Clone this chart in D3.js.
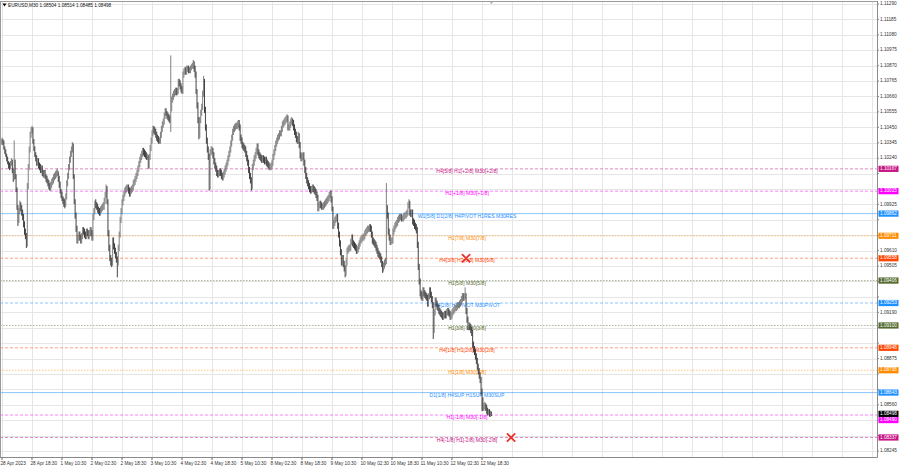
<!DOCTYPE html>
<html><head><meta charset="utf-8">
<script src="https://cdn.jsdelivr.net/npm/d3@7"></script>
<style>body{margin:0;background:#fff;} svg{display:block;font-family:"Liberation Sans",Arial,sans-serif;}</style>
</head><body><svg id="c" width="900" height="468"></svg>
<script>
const symbol = "EURUSD,M30";
const priceBase = 1.08; // bar values below are pips above this base
const firstBarTime = "2023-04-28 01:30";
const closes = [
234,235,236,235,231,229,226,224,221,219, 218,220,222,216,210,222,212,203,191,182,
188,193,190,187,184,179,174,171,166,205, 218,230,240,243,244,236,231,227,224,221,
222,219,218,216,217,214,213,214,212,210, 209,207,205,204,206,208,209,211,212,213,
214,214,210,206,202,199,197,195,194,193, 198,207,212,218,223,227,230,233,212,195,
185,176,168,170,172,170,168,171,175,174, 172,171,174,173,171,173,175,173,170,184,
188,193,192,191,189,188,187,189,190,191, 191,195,199,204,195,173,163,156,154,153,
168,164,161,158,155,153,163,172,182,188, 194,197,200,202,203,204,204,202,200,202,
203,204,207,208,210,212,214,217,220,223, 225,227,229,228,227,226,225,225,219,225,
231,236,241,244,243,242,240,238,237,236, 236,240,244,247,249,253,256,255,253,252,
251,250,258,264,266,268,269,270,269,270, 276,275,273,271,270,281,283,284,283,285,
285,284,284,285,286,287,288,285,281,270, 260,250,240,250,255,259,268,277,257,245,
236,230,225,205,228,229,229,226,222,219, 217,214,213,214,215,214,212,211,213,215,
217,219,221,224,227,230,234,238,242,244, 245,246,246,247,248,245,238,236,233,232,
231,230,227,224,221,216,212,209,205,218, 221,224,226,229,232,228,226,225,224,223,
224,223,222,223,221,220,219,218,218,219, 221,225,228,231,234,236,238,239,241,241,
244,247,248,249,250,251,252,245,245,247, 249,250,248,245,242,240,237,236,240,233,
226,224,225,226,221,216,212,209,207,205, 203,202,203,204,203,202,201,199,197,190,
192,193,192,191,191,192,193,194,195,196, 197,199,200,196,190,178,180,182,183,184,
178,172,166,160,153,156,152,149,146,153, 161,162,163,163,167,170,166,165,164,163,
161,162,164,166,168,169,170,170,171,173, 174,175,176,176,177,176,172,168,167,166,
165,163,161,159,158,157,155,152,149,151, 153,154,190,185,174,170,167,168,168,174,
176,178,179,180,182,183,184,184,183,183, 184,185,185,186,187,192,194,187,186,187,
181,180,178,177,175,165,150,140,132,131, 129,134,132,131,130,129,125,130,134,131,
128,124,107,119,127,125,123,122,120,119, 118,117,116,117,118,117,119,120,119,118,
116,117,119,120,121,122,122,123,124,124, 125,126,128,130,129,130,131,120,114,109,
110,109,107,105,97,94,92,89,86,82, 79,76,73,65,59,54,55,55,54,52,
51,51,50,50.4,49.8];
const highs = [
236,237,238,237,236,232,230,227,225,222, 221,222,224,223,217,236,223,213,204,192,
190,195,194,192,189,186,181,176,173,207, 220,232,242,245,246,245,237,232,228,226,
224,224,221,220,219,219,216,216,216,213, 212,210,209,207,208,210,211,213,214,215,
216,217,215,212,208,203,201,198,197,196, 200,209,214,220,225,229,232,235,234,213,
196,187,178,172,174,174,172,173,177,177, 176,174,176,176,175,175,177,177,175,186,
190,195,196,194,193,191,190,191,192,193, 194,197,201,206,205,196,175,165,158,156,
170,170,166,163,160,157,165,174,184,190, 196,199,202,204,205,206,206,206,204,204,
205,206,209,210,212,214,216,219,222,225, 227,229,231,231,230,229,228,227,226,227,
233,238,243,246,246,245,244,242,240,239, 238,242,246,249,251,255,258,258,256,255,
254,253,294,266,268,270,271,272,272,272, 278,278,277,275,273,283,285,286,286,287,
287,287,286,287,288,289,291,290,287,283, 271,262,252,252,257,261,270,280,278,259,
247,238,232,227,230,232,232,231,228,224, 221,219,216,216,217,217,216,214,215,217,
219,221,223,226,229,232,236,240,244,246, 247,248,248,249,250,250,247,240,238,235,
234,233,232,229,226,223,218,214,211,220, 223,226,228,231,234,234,230,228,227,226,
226,226,225,225,225,223,222,221,220,221, 223,227,230,233,236,238,240,241,243,243,
246,249,250,251,252,253,254,253,247,249, 251,252,251,250,247,244,242,239,242,241,
235,228,227,228,228,223,218,214,211,209, 207,205,205,206,206,205,204,203,201,199,
194,195,195,194,193,194,195,196,197,198, 199,201,202,202,198,191,182,184,185,186,
186,180,174,168,162,158,158,154,151,155, 163,164,165,165,169,172,172,168,167,166,
165,164,166,168,170,171,172,172,173,175, 176,177,178,178,179,179,178,174,170,169,
168,167,165,163,161,160,159,157,154,153, 155,156,207,192,187,176,172,170,170,176,
178,180,181,182,184,185,186,186,186,185, 186,187,187,188,189,194,196,195,189,189,
189,183,182,180,179,177,167,152,142,134, 133,136,136,134,133,132,131,132,136,136,
133,130,126,121,129,129,127,125,124,122, 121,120,119,119,120,120,121,122,122,121,
120,119,121,122,123,124,124,125,126,126, 127,128,130,132,132,132,136,132,122,116,
112,112,111,109,107,99,96,94,91,88, 84,81,78,75,67,61,57,58,57,56,
54,53,53,52,51.4];
const lows = [
232,233,234,233,230,227,225,222,220,217, 216,217,219,214,208,209,210,201,189,178,
180,186,188,185,182,177,172,169,163,164, 203,216,228,238,241,234,229,225,222,219,
219,217,216,214,214,212,211,211,210,208, 207,205,203,202,202,204,206,207,209,210,
211,212,208,204,200,197,195,193,191,190, 191,196,205,210,216,221,225,228,210,193,
183,174,166,166,168,168,166,166,169,172, 170,169,169,171,169,169,171,171,168,168,
182,186,190,189,187,186,185,185,187,188, 189,189,193,197,193,171,161,154,151,150,
151,162,159,156,153,143,151,161,170,180, 186,192,195,198,200,201,202,200,198,198,
200,201,202,205,206,208,210,212,215,218, 221,223,225,226,225,224,223,223,217,217,
223,229,234,239,241,240,238,236,235,234, 234,234,238,242,245,247,251,253,251,250,
249,248,242,256,262,264,266,267,267,267, 268,273,271,269,268,268,279,281,281,281,
283,282,282,282,284,285,285,283,279,268, 258,248,237,238,248,253,257,266,255,243,
234,228,223,202,203,226,227,224,220,217, 215,212,211,211,212,212,210,209,209,211,
213,215,217,219,222,225,228,232,236,240, 242,243,244,244,245,243,236,234,231,230,
229,228,225,222,219,214,210,207,202,203, 216,219,222,224,227,226,224,223,222,221,
221,221,220,220,219,218,217,216,216,216, 217,219,223,226,229,232,234,236,237,239,
239,242,245,246,247,248,249,243,243,243, 245,247,246,243,240,238,235,234,234,231,
224,222,222,223,219,214,210,207,205,203, 201,200,200,201,201,200,199,197,195,188,
188,190,190,189,189,189,190,191,192,193, 194,195,197,194,188,176,176,178,180,181,
176,170,164,158,151,151,150,147,143,144, 151,159,160,161,161,165,164,163,162,161,
159,159,160,162,164,166,167,168,168,169, 171,172,173,174,174,174,170,166,165,164,
163,161,159,157,156,155,153,150,146,147, 149,151,152,183,172,168,165,165,166,166,
172,174,176,177,178,180,181,182,181,181, 181,182,183,183,184,185,190,185,184,184,
179,178,176,175,173,163,148,138,130,128, 127,127,130,129,128,127,123,123,128,129,
126,122,101,105,117,123,121,120,118,117, 116,115,114,114,115,115,115,117,117,116,
114,114,115,117,118,119,120,120,121,122, 122,123,124,126,127,127,128,118,112,107,
107,107,105,103,95,92,90,87,84,80, 77,74,71,63,52,52,52,53,52,50,
49,49,48,48,48.5];

const timeTickLabels = ["28 Apr 2023","28 Apr 18:30","1 May 10:30","2 May 02:30","2 May 18:30","3 May 10:30","4 May 02:30","4 May 18:30","5 May 10:30","8 May 02:30","8 May 18:30","9 May 10:30","10 May 02:30","10 May 18:30","11 May 10:30","12 May 02:30","12 May 18:30"];
const timeTickTimes = ["2023-04-28 02:30","2023-04-28 18:30","2023-05-01 10:30","2023-05-02 02:30","2023-05-02 18:30","2023-05-03 10:30","2023-05-04 02:30","2023-05-04 18:30","2023-05-05 10:30","2023-05-08 02:30","2023-05-08 18:30","2023-05-09 10:30","2023-05-10 02:30","2023-05-10 18:30","2023-05-11 10:30","2023-05-12 02:30","2023-05-12 18:30"];
const priceTicks = [1.11290,1.11185,1.11080,1.10975,1.10870,1.10765,1.10660,1.10555,1.10450,1.10345,1.10240,1.10135,1.10030,1.09925,1.09820,1.09715,1.09610,1.09505,1.09400,1.09295,1.09190,1.09085,1.08980,1.08875,1.08770,1.08665,1.08560,1.08455,1.08350,1.08245];

const levelNames = ["H4[5/8] H1[+2/8] M30[+2/8]","H1[+1/8] M30[+1/8]","W1[5/8] D1[2/8] H4PIVOT H1RES M30RES","H1[7/8] M30[7/8]","H4[3/8] H1[6/8] M30[6/8]","H1[5/8] M30[5/8]","H4[2/8] H1PIVOT M30PIVOT","H1[3/8] M30[3/8]","H4[1/8] H1[2/8] M30[2/8]","H1[1/8] M30[1/8]","D1[1/8] H4SUP H1SUP M30SUP","H1[-1/8] M30[-1/8]","H4[-1/8] H1[-2/8] M30[-2/8]"];
const levelPrices = [1.10167,1.10015,1.09862,1.09711,1.09558,1.09406,1.09253,1.09100,1.08948,1.08795,1.08643,1.08490,1.08337];
const levelKinds = ["h4ext","h1ext","res","h1q","h4","h1o","pivot","h1o","h4","h1q","res","h1ext","h4ext"];
const markerBars = [497, 545];
const markerPrices = [1.09558, 1.08337];

// ---- styles ----
const kindStyle = {
  h4ext:{color:"#c71585", dash:"3,2"},
  h1ext:{color:"#ff00ff", dash:"3,2"},
  res:  {color:"#1e90ff", dash:null},
  h1q:  {color:"#ff8c00", dash:"1.5,1.5"},
  h4:   {color:"#ff4500", dash:"3,2"},
  h1o:  {color:"#556b2f", dash:"1.5,1.5"},
  pivot:{color:"#1e90ff", dash:"3,2"}
};

const W = 900, H = 468, plotRight = 877, plotBottom = 457.5;
const svg = d3.select("#c");
const parse = d3.utcParse("%Y-%m-%d %H:%M");
const fmtKey = d3.utcFormat("%Y-%m-%d %H:%M");
const toPrice = p => priceBase + p/10000;

const bars = closes.map((c,i) => ({
  i, open: toPrice(i===0 ? c : closes[i-1]), high: toPrice(highs[i]), low: toPrice(lows[i]), close: toPrice(c)
}));

// bar time slots (M30, skipping weekends), extended into the empty right area
const slots = [];
let t = parse(firstBarTime);
while (slots.length < 1000) {
  const d = t.getUTCDay();
  if (d !== 0 && d !== 6) slots.push(fmtKey(t));
  t = new Date(t.getTime() + 30*60000);
}

const x = d3.scaleLinear().domain([0, 935]).range([0.125, 0.125 + 935*0.9375]);
const y = d3.scaleLinear().domain([1.08245, 1.11290]).range([451, 4]);

svg.append("rect").attr("width",W).attr("height",H).attr("fill","#fff");
const defs = svg.append("defs");
defs.append("clipPath").attr("id","plot").append("rect").attr("x",0).attr("y",1).attr("width",plotRight).attr("height",plotBottom-1);

// grid
const grid = svg.append("g").attr("clip-path","url(#plot)");
grid.selectAll("line.h").data(priceTicks).join("line")
  .attr("x1",0).attr("x2",plotRight).attr("y1",d=>Math.round(y(d))+0.5).attr("y2",d=>Math.round(y(d))+0.5)
  .attr("stroke","#e6e6e6").attr("stroke-width",1);
const tickIdx = timeTickTimes.map(s => slots.indexOf(s));
const gridIdx = tickIdx.slice();
let gi = tickIdx[tickIdx.length-1] + 32;
while (x(gi) < plotRight) { gridIdx.push(gi); gi += 32; }
grid.selectAll("line.v").data(gridIdx).join("line")
  .attr("x1",d=>Math.round(x(d))+0.5).attr("x2",d=>Math.round(x(d))+0.5).attr("y1",1).attr("y2",plotBottom)
  .attr("stroke","#e6e6e6").attr("stroke-width",1);

// levels
const lv = svg.append("g").attr("clip-path","url(#plot)");
levelPrices.forEach((p,k) => {
  const st = kindStyle[levelKinds[k]];
  lv.append("line").attr("x1",0).attr("x2",plotRight).attr("y1",y(p)).attr("y2",y(p))
    .attr("stroke",st.color).attr("stroke-opacity",0.5).attr("stroke-width",1)
    .attr("stroke-dasharray",st.dash);
  lv.append("text").attr("x",x(498)).attr("y",y(p)+2.8).attr("text-anchor","middle")
    .attr("dominant-baseline","middle").attr("font-size",5.1).attr("fill",st.color)
    .text(levelNames[k]);
});

// bars
const bg = svg.append("g").attr("clip-path","url(#plot)");
bg.selectAll("line.bar").data(bars).join("line")
  .attr("x1",d=>x(d.i)).attr("x2",d=>x(d.i))
  .attr("y1",d=>y(d.high)).attr("y2",d=>y(d.low)+0.3)
  .attr("stroke",d=>d.close>=d.open ? "#6a6a6a" : "#222").attr("stroke-width",0.85);

// markers
const mk = svg.append("g");
markerBars.forEach((b,k) => {
  const cx = x(b), cy = y(markerPrices[k]), r = 3.6;
  mk.append("path").attr("d",`M${cx-r},${cy-r}L${cx+r},${cy+r}M${cx+r},${cy-r}L${cx-r},${cy+r}`)
    .attr("stroke","#e8322b").attr("stroke-width",1.8).attr("stroke-linecap","round");
});

// frame & axes
svg.append("line").attr("x1",0).attr("x2",plotRight).attr("y1",1.5).attr("y2",1.5).attr("stroke","#9a9a9a");
svg.append("line").attr("x1",0.5).attr("x2",0.5).attr("y1",1).attr("y2",plotBottom).attr("stroke","#9a9a9a");
svg.append("line").attr("x1",plotRight+0.5).attr("x2",plotRight+0.5).attr("y1",1).attr("y2",plotBottom).attr("stroke","#8a8a8a");
svg.append("line").attr("x1",0).attr("x2",plotRight+0.5).attr("y1",plotBottom).attr("y2",plotBottom).attr("stroke","#8a8a8a");
svg.append("path").attr("d",`M${x(524)-2},1.5L${x(524)+2},1.5L${x(524)},4Z`).attr("fill","#aaa");

// tags on price axis (computed first so covered tick labels can be left out)
const last = bars[bars.length-1];
const tags = levelPrices.map((p,k)=>({p, color:kindStyle[levelKinds[k]].color}));
tags.push({p:last.close, color:"#000"});
tags.sort((a,b)=>d3.descending(a.p,b.p));
let prevBottom = -10;
const tagH = 6.2;
tags.forEach(tg => {
  let top = y(tg.p) - tagH/2;
  if (top < prevBottom) top = prevBottom;
  prevBottom = top + tagH;
  tg.top = top;
});
const covered = p => tags.some(tg => Math.abs(y(p) - (tg.top + tagH/2)) < tagH + 0.5);

// price axis
const ax = svg.append("g");
const visibleTicks = priceTicks.filter(p => !covered(p));
ax.selectAll("text.pt").data(visibleTicks).join("text")
  .attr("x",880).attr("y",d=>y(d)).attr("dominant-baseline","middle")
  .attr("font-size",4.7).attr("fill","#333").text(d=>d.toFixed(5));
ax.selectAll("line.pt").data(priceTicks).join("line")
  .attr("x1",plotRight).attr("x2",plotRight+2).attr("y1",d=>y(d)).attr("y2",d=>y(d)).attr("stroke","#888");
tags.forEach(tg => {
  ax.append("rect").attr("x",878.5).attr("y",tg.top).attr("width",20).attr("height",tagH).attr("fill",tg.color);
  ax.append("text").attr("x",880).attr("y",tg.top+tagH/2).attr("dominant-baseline","middle")
    .attr("font-size",4.7).attr("fill","#fff").text(tg.p.toFixed(5));
});

// time axis
const tx = svg.append("g");
timeTickLabels.forEach((lab,k) => {
  const xi = x(tickIdx[k]);
  tx.append("line").attr("x1",xi).attr("x2",xi).attr("y1",plotBottom).attr("y2",plotBottom+2.5).attr("stroke","#666");
  tx.append("text").attr("x",xi-1.5).attr("y",463.5).attr("dominant-baseline","middle")
    .attr("font-size",4.7).attr("fill","#333").text(lab);
});

// title
svg.append("path").attr("d","M2.5,3.5L6.5,3.5L4.5,6.5Z").attr("fill","#000");
svg.append("text").attr("x",8).attr("y",5.5).attr("dominant-baseline","middle").attr("font-size",4.7).attr("fill","#111")
  .text(`${symbol}  ${[last.open,last.high,last.low,last.close].map(v=>v.toFixed(5)).join(" ")}`);
</script></body></html>
